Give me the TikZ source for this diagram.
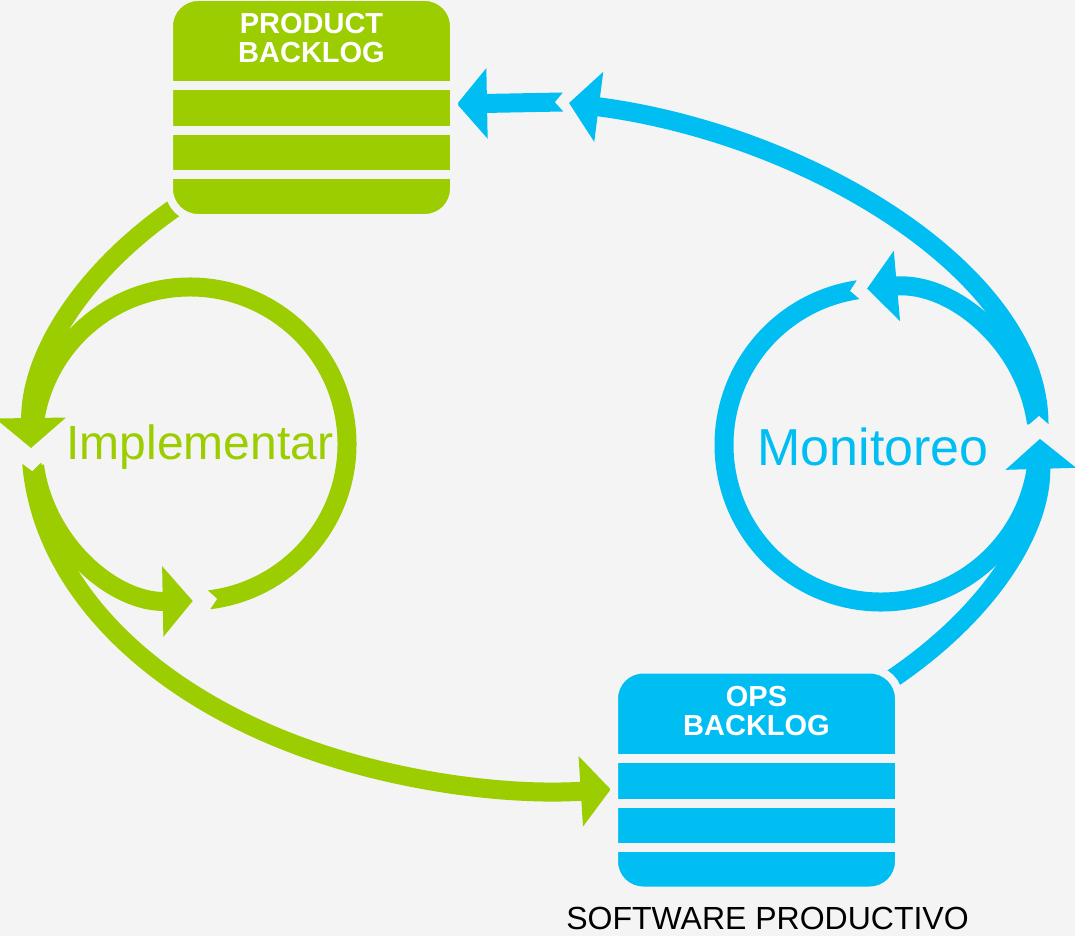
\documentclass[tikz,border=0pt]{standalone}
\usepackage{fontspec}
\setmainfont{Liberation Sans}
\usetikzlibrary{arrows.meta,decorations.markings,calc}
\definecolor{bgc}{RGB}{244,244,244}
\definecolor{gr}{RGB}{156,205,0}
\definecolor{bl}{RGB}{0,190,242}
\begin{document}
\begin{tikzpicture}[x=1pt,y=1pt,
  band/.style={line width=19pt},
  head/.style={-{Triangle[width=69pt,length=30pt]}},
  notchstart/.style={postaction={decorate},
    decoration={markings,mark=at position 0pt with {\fill[bgc] (-2pt,-11.5pt) -- (8pt,0pt) -- (-2pt,11.5pt) -- cycle;}}},
  box/.style={rectangle, rounded corners=29pt, minimum width=285pt, minimum height=221pt,
    inner sep=0pt, outer sep=0pt, draw=bgc, line width=8pt},
  boxtext/.style={anchor=base, text=white, inner sep=0pt, font=\bfseries\fontsize{29}{30}\selectfont}
]
\useasboundingbox (0,0) rectangle (1075,-936);
\fill[bgc] (0,0) rectangle (1075,-936);

% centres of the loops
\coordinate (gc) at (190,-444);
\coordinate (ge) at (560,-445);
\coordinate (bc) at (881,-445);
\coordinate (be) at (450,-445);
\coordinate (bu1) at (1039,-424);
\coordinate (bu2) at (569,-103);
\coordinate (bs1) at (563,-102);
\coordinate (bs2) at (457,-104);

% green inner loop
\draw[band, gr, notchstart] ($(gc)+(-83:157)$) arc[start angle=-83, end angle=172, radius=157];
\draw[band, gr, head] ($(gc)+(188:157)$) arc[start angle=188, end angle=271, radius=157];
% green outer arcs
\draw[band, gr, head] ($(ge)+(133:529 and 346)$) arc[start angle=133, end angle=180.5, x radius=529, y radius=346];
\draw[band, gr, head, notchstart] ($(ge)+(183:529 and 346)$) arc[start angle=183, end angle=275.5, x radius=529, y radius=346];

% blue inner loop
\draw[band, bl, notchstart] ($(bc)+(98.4:157)$) arc[start angle=98.4, end angle=352, radius=157];
\draw[band, bl, head] ($(bc)+(8:157)$) arc[start angle=8, end angle=95.1, radius=157];
% blue outer arcs
\draw[band, bl, head] ($(be)+(-44:590 and 353)$) arc[start angle=-44, end angle=1, x radius=590, y radius=353];
\draw[band, bl, head, notchstart] (bu1) .. controls (1039,-274) and (809,-134) .. (bu2);
\draw[band, bl, head, notchstart] (bs1) -- (bs2);

% backlog boxes
\node[box, fill=gr] (pb) at (311.5,-107.5) {};
\node[box, fill=bl] (ops) at (756.5,-780) {};
\foreach \o in {26.5,-18.5,-62.5}{
  \fill[bgc] ($(pb.center)+(-140,\o)$) rectangle ($(pb.center)+(140,\o-9)$);
  \fill[bgc] ($(ops.center)+(-140,\o)$) rectangle ($(ops.center)+(140,\o-9)$);
}
\node[boxtext] (pbt1) at ($(pb.center)+(0,73.5)$) {PRODUCT};
\node[boxtext] (pbt2) at ($(pb.center)+(0,44.5)$) {BACKLOG};
\node[boxtext] (opst1) at ($(ops.center)+(0,73.5)$) {OPS};
\node[boxtext] (opst2) at ($(ops.center)+(0,44.5)$) {BACKLOG};

% labels
\node[anchor=base, text=gr, inner sep=0pt, font=\fontsize{48}{50}\selectfont] (impl) at (200,-459) {Implementar};
\node[anchor=base, text=bl, inner sep=0pt, font=\fontsize{52}{54}\selectfont] (mon) at (873,-465) {Monitoreo};
\node[anchor=base, text=black, inner sep=0pt, font=\fontsize{32}{34}\selectfont] (sw) at (767.5,-929) {SOFTWARE PRODUCTIVO};
\end{tikzpicture}
\end{document}
